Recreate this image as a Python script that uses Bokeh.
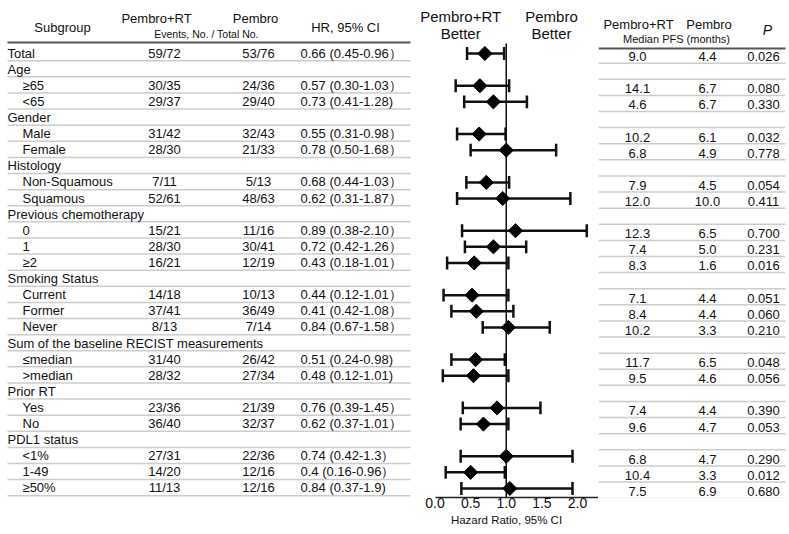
import math
from bokeh.plotting import figure
from bokeh.layouts import row
from bokeh.models import Range1d, FixedTicker, PrintfTickFormatter, ColumnDataSource
from bokeh.core.properties import value
from bokeh.embed import file_html
from bokeh.resources import INLINE

# ---------------- data ----------------
labels = ["Total", "Age", "≥65", "<65", "Gender", "Male", "Female", "Histology",
          "Non-Squamous", "Squamous", "Previous chemotherapy", "0", "1", "≥2",
          "Smoking Status", "Current", "Former", "Never",
          "Sum of the baseline RECIST measurements", "≤median", ">median",
          "Prior RT", "Yes", "No", "PDL1 status", "<1%", "1-49", "≥50%"]
is_group = [False, True, False, False, True, False, False, True, False, False,
            True, False, False, False, True, False, False, False, True, False,
            False, True, False, False, True, False, False, False]
events_rt = ["59/72", "", "30/35", "29/37", "", "31/42", "28/30", "", "7/11", "52/61",
             "", "15/21", "28/30", "16/21", "", "14/18", "37/41", "8/13", "",
             "31/40", "28/32", "", "23/36", "36/40", "", "27/31", "14/20", "11/13"]
events_p = ["53/76", "", "24/36", "29/40", "", "32/43", "21/33", "", "5/13", "48/63",
            "", "11/16", "30/41", "12/19", "", "10/13", "36/49", "7/14", "",
            "26/42", "27/34", "", "21/39", "32/37", "", "22/36", "12/16", "12/16"]
hr_text = ["0.66 (0.45-0.96）", "", "0.57 (0.30-1.03）", "0.73 (0.41-1.28)", "",
           "0.55 (0.31-0.98）", "0.78 (0.50-1.68）", "", "0.68 (0.44-1.03）",
           "0.62 (0.31-1.87）", "", "0.89 (0.38-2.10）", "0.72 (0.42-1.26）",
           "0.43 (0.18-1.01）", "", "0.44 (0.12-1.01）", "0.41 (0.42-1.08）",
           "0.84 (0.67-1.58）", "", "0.51 (0.24-0.98)", "0.48 (0.12-1.01)", "",
           "0.76 (0.39-1.45）", "0.62 (0.37-1.01）", "", "0.74 (0.42-1.3）",
           "0.4 (0.16-0.96）", "0.84 (0.37-1.9)"]
# plotted hazard ratios (as drawn) for the non-group rows
hr_point = [0.70, 0.63, 0.82, 0.62, 1.00, 0.72, 0.95, 1.13, 0.82, 0.55,
            0.52, 0.58, 1.03, 0.57, 0.54, 0.87, 0.68, 1.00, 0.50, 1.05]
hr_low = [0.45, 0.29, 0.41, 0.31, 0.50, 0.44, 0.31, 0.38, 0.42, 0.17,
          0.12, 0.23, 0.67, 0.23, 0.11, 0.39, 0.36, 0.36, 0.15, 0.37]
hr_high = [0.97, 1.04, 1.29, 0.99, 1.70, 1.04, 1.90, 2.13, 1.28, 1.03,
           1.03, 1.10, 1.61, 0.98, 1.03, 1.48, 1.03, 1.93, 0.98, 1.93]
pfs_rt = ["9.0", "", "14.1", "4.6", "", "10.2", "6.8", "", "7.9", "12.0", "",
          "12.3", "7.4", "8.3", "", "7.1", "8.4", "10.2", "", "11.7", "9.5", "",
          "7.4", "9.6", "", "6.8", "10.4", "7.5"]
pfs_p = ["4.4", "", "6.7", "6.7", "", "6.1", "4.9", "", "4.5", "10.0", "",
         "6.5", "5.0", "1.6", "", "4.4", "4.4", "3.3", "", "6.5", "4.6", "",
         "4.4", "4.7", "", "4.7", "3.3", "6.9"]
p_values = ["0.026", "", "0.080", "0.330", "", "0.032", "0.778", "", "0.054", "0.411", "",
            "0.700", "0.231", "0.016", "", "0.051", "0.060", "0.210", "", "0.048", "0.056", "",
            "0.390", "0.053", "", "0.290", "0.012", "0.680"]
hr_ticks = [0.0, 0.5, 1.0, 1.5, 2.0]

# ---------------- layout ----------------
FONT = value("Liberation Sans")
H = 530
BORDER_B = 33
Y_TOP, Y_BOT = -3.29, 27.56
n = len(labels)
rows_idx = list(range(n))
data_rows = [i for i in rows_idx if not is_group[i]]


def base_fig(width, x_range):
    p = figure(width=width, height=H, x_range=x_range, y_range=Range1d(Y_BOT, Y_TOP),
               output_backend="svg", toolbar_location=None,
               x_axis_location=None, y_axis_location=None,
               min_border_left=0, min_border_right=0, min_border_top=0,
               min_border_bottom=BORDER_B)
    p.grid.visible = False
    p.outline_line_color = None
    p.background_fill_color = "white"
    p.border_fill_color = "white"
    return p


def txt(p, x, y, t, size="13px", align="center", style="normal", color="#111111"):
    p.text(x=x, y=y, text=t, text_font=FONT, text_font_size=size,
           text_align=align, text_baseline="middle", text_color=color,
           text_font_style=style)


# ---- left table ----
L_W = 414
left = base_fig(L_W, Range1d(0, L_W))
txt(left, [62], [-1.61], ["Subgroup"])
txt(left, [156, 255], [-2.17, -2.17], ["Pembro+RT", "Pembro"])
txt(left, [206], [-1.24], ["Events, No. / Total No."], size="10.5px")
txt(left, [345], [-1.61], ["HR, 95% CI"])
left.segment(x0=[7], x1=[410], y0=[-0.68], y1=[-0.68], line_color="#555555", line_width=2)
left.segment(x0=[7] * n, x1=[410] * n, y0=[i + 0.45 for i in rows_idx],
             y1=[i + 0.45 for i in rows_idx], line_color="#cccccc", line_width=1.5)
ly = [i - 0.03 for i in rows_idx]
lab_x = [7 if (g or i == 0) else 22 for i, g in enumerate(is_group)]
txt(left, lab_x, ly, labels, align="left")
txt(left, [164] * n, ly, events_rt)
txt(left, [258] * n, ly, events_p)
txt(left, [300] * n, ly, hr_text, align="left")

# ---- forest plot ----
F_W = 184
PX_PER_UNIT = 71.25
x0_px = 20.5
forest = figure(width=F_W, height=H,
                x_range=Range1d(-x0_px / PX_PER_UNIT, (F_W - x0_px) / PX_PER_UNIT),
                y_range=Range1d(Y_BOT, Y_TOP), output_backend="svg", toolbar_location=None,
                y_axis_location=None, min_border_left=0, min_border_right=0,
                min_border_top=0, min_border_bottom=BORDER_B)
forest.grid.visible = False
forest.outline_line_color = None
ax = forest.xaxis[0]
ax.ticker = FixedTicker(ticks=hr_ticks)
ax.formatter = PrintfTickFormatter(format="%.1f")
ax.bounds = (0, (F_W - x0_px) / PX_PER_UNIT)
ax.axis_line_width = 1.5
ax.axis_line_color = "#222222"
ax.major_tick_line_color = None
ax.minor_tick_line_color = None
ax.major_tick_out = 0
ax.major_tick_in = 0
ax.major_label_standoff = 0
ax.major_label_text_font = "Liberation Sans"
ax.major_label_text_font_size = "14px"
ax.major_label_text_color = "#111111"
ax.axis_label = "Hazard Ratio, 95% CI"
ax.axis_label_standoff = 3
ax.axis_label_text_font = "Liberation Sans"
ax.axis_label_text_font_size = "11.5px"
ax.axis_label_text_font_style = "normal"
ax.axis_label_text_color = "#111111"

txt(forest, [0.36, 0.36], [-2.30, -1.24], ["Pembro+RT", "Better"], size="15px")
txt(forest, [1.635, 1.635], [-2.30, -1.24], ["Pembro", "Better"], size="15px")
forest.segment(x0=[1.0], x1=[1.0], y0=[-0.62], y1=[Y_BOT], line_color="#111111", line_width=1.5)

src = ColumnDataSource(dict(y=data_rows, hr=hr_point, lo=hr_low, hi=hr_high,
                            ytop=[y - 0.4 for y in data_rows], ybot=[y + 0.4 for y in data_rows]))
forest.segment(x0="lo", x1="hi", y0="y", y1="y", source=src, line_color="#111111", line_width=2.5)
forest.segment(x0="lo", x1="lo", y0="ytop", y1="ybot", source=src, line_color="#111111", line_width=2.5)
forest.segment(x0="hi", x1="hi", y0="ytop", y1="ybot", source=src, line_color="#111111", line_width=2.5)
forest.scatter(x="hr", y="y", source=src, marker="square", angle=math.pi / 4, size=10,
               fill_color="#000000", line_color="#000000")

# ---- right table ----
R_W = 189
right = base_fig(R_W, Range1d(0, R_W))
RO = 0.19
txt(right, [40, 110.5], [-1.80, -1.80], ["Pembro+RT", "Pembro"], size="13px")
txt(right, [78], [-0.87], ["Median PFS (months)"], size="11px")
txt(right, [169], [-1.43], ["P"], size="14px", style="italic")
right.segment(x0=[0], x1=[187], y0=[-0.31], y1=[-0.31], line_color="#555555", line_width=2)
right.segment(x0=[0] * n, x1=[187] * n, y0=[i + 0.6 for i in rows_idx],
              y1=[i + 0.6 for i in rows_idx], line_color="#cccccc", line_width=1.5)
ry = [i + RO for i in rows_idx]
txt(right, [39] * n, ry, pfs_rt)
txt(right, [109] * n, ry, pfs_p)
txt(right, [165] * n, ry, p_values)

layout = row(left, forest, right, spacing=0)
open("out.html", "w").write(file_html(layout, INLINE))
